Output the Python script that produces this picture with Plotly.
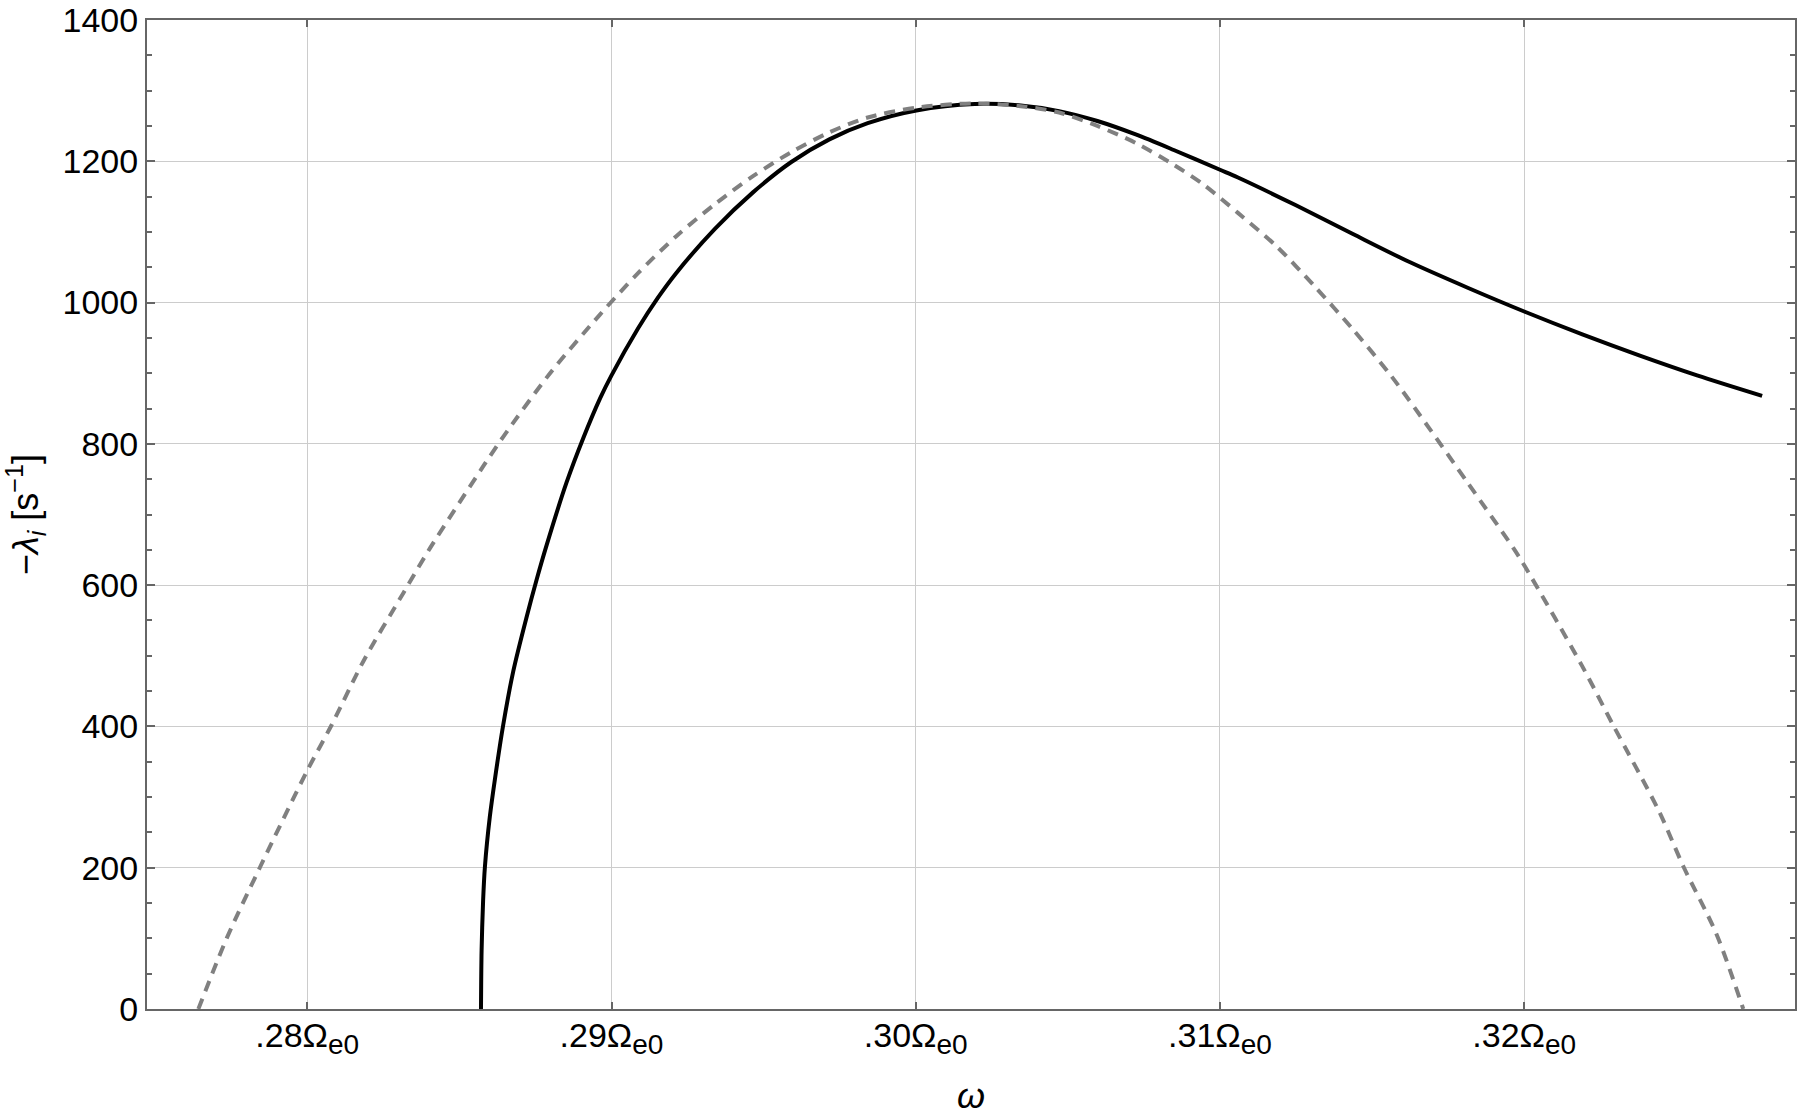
import plotly.graph_objs as go

# solid curve: full growth rate
omega_solid = [0.28571, 0.28573, 0.28578, 0.28584, 0.28600, 0.28617, 0.28644, 0.28677,
               0.28721, 0.28754, 0.28787, 0.28852, 0.28907, 0.28962, 0.29000, 0.29088,
               0.29151, 0.29213, 0.29339, 0.29465, 0.29591, 0.29716, 0.29842, 0.30002,
               0.30194, 0.30345, 0.30471, 0.30597, 0.30723, 0.30848, 0.31000, 0.31059,
               0.31248, 0.31437, 0.31625, 0.31814, 0.32002, 0.32191, 0.32380, 0.32568,
               0.32782]
lam_solid = [0, 83, 154, 202, 272, 326, 402, 478,
             555, 608, 657, 745, 808, 864, 897, 964,
             1006, 1042, 1104, 1156, 1199, 1231, 1254, 1272,
             1281, 1279, 1271, 1257, 1238, 1216, 1188, 1177,
             1138, 1097, 1057, 1021, 987, 955, 925, 897,
             868]

# dashed curve: approximation
omega_dashed = [0.27642, 0.27735, 0.27845, 0.27998, 0.28080, 0.28184, 0.28316, 0.28403,
                0.28578, 0.28644, 0.28798, 0.28962, 0.29088, 0.29213, 0.29339, 0.29465,
                0.29591, 0.29716, 0.29842, 0.30002, 0.30194, 0.30345, 0.30471, 0.30597,
                0.30723, 0.30848, 0.30946, 0.31059, 0.31185, 0.31311, 0.31437, 0.31563,
                0.31688, 0.31814, 0.31965, 0.32003, 0.32191, 0.32292, 0.32443, 0.32524,
                0.32631, 0.32720]
lam_dashed = [0, 100, 201, 336, 402, 492, 589, 652,
              768, 810, 900, 983, 1042, 1094, 1139, 1179,
              1213, 1241, 1262, 1276, 1282, 1278, 1269, 1250,
              1226, 1195, 1167, 1127, 1080, 1023, 962, 896,
              822, 745, 652, 626, 485, 402, 280, 201,
              107, 0]

x_ticks = [0.28, 0.29, 0.30, 0.31, 0.32]
x_ticklabels = ['.28', '.29', '.30', '.31', '.32']
y_ticks = [0, 200, 400, 600, 800, 1000, 1200, 1400]

frame = '#666666'
grid = '#cccccc'
font = 'Liberation Sans, Arial, sans-serif'

x_ticktext = [t + '\u03a9<sub><span style="font-size:28px">e0</span></sub>'
              for t in x_ticklabels]

solid = go.Scatter(x=omega_solid, y=lam_solid, mode='lines',
                   line=dict(color='black', width=4, shape='spline', smoothing=0.85),
                   showlegend=False, hoverinfo='skip')
dashed = go.Scatter(x=omega_dashed, y=lam_dashed, mode='lines',
                    line=dict(color='#808080', width=4, dash='11px,8px',
                              shape='spline', smoothing=0.8),
                    showlegend=False, hoverinfo='skip')

layout = go.Layout(
    width=1800, height=1116,
    margin=dict(l=147, r=5, t=20, b=107),
    paper_bgcolor='white', plot_bgcolor='white',
    font=dict(family=font, size=34, color='black'),
    xaxis=dict(range=[0.274732, 0.3289], tickvals=x_ticks, ticktext=x_ticktext,
               showline=True, linecolor=frame, linewidth=2, mirror='ticks',
               ticks='inside', ticklen=7, tickwidth=2, tickcolor=frame,
               ticklabelstandoff=-5,
               showgrid=True, gridcolor=grid, gridwidth=1, zeroline=False,
               title=dict(text='<i>\u03c9</i>', standoff=29, font=dict(size=36)),
               automargin=False),
    yaxis=dict(range=[0, 1400], tickvals=y_ticks,
               showline=True, linecolor=frame, linewidth=2, mirror='ticks',
               ticks='inside', ticklen=8, tickwidth=2, tickcolor=frame,
               minor=dict(dtick=50, ticks='inside', ticklen=5, tickwidth=2,
                          tickcolor=frame, showgrid=False),
               showgrid=True, gridcolor=grid, gridwidth=1, zeroline=False,
               title=dict(text='\u2212<i>\u03bb<sub>i</sub></i> [s<sup>\u22121</sup>]',
                          standoff=14, font=dict(size=36)),
               automargin=False),
)

fig = go.Figure(data=[solid, dashed], layout=layout)
fig.write_html("out.html", config={'displayModeBar': False},
               post_script="document.body.style.margin='0';")
